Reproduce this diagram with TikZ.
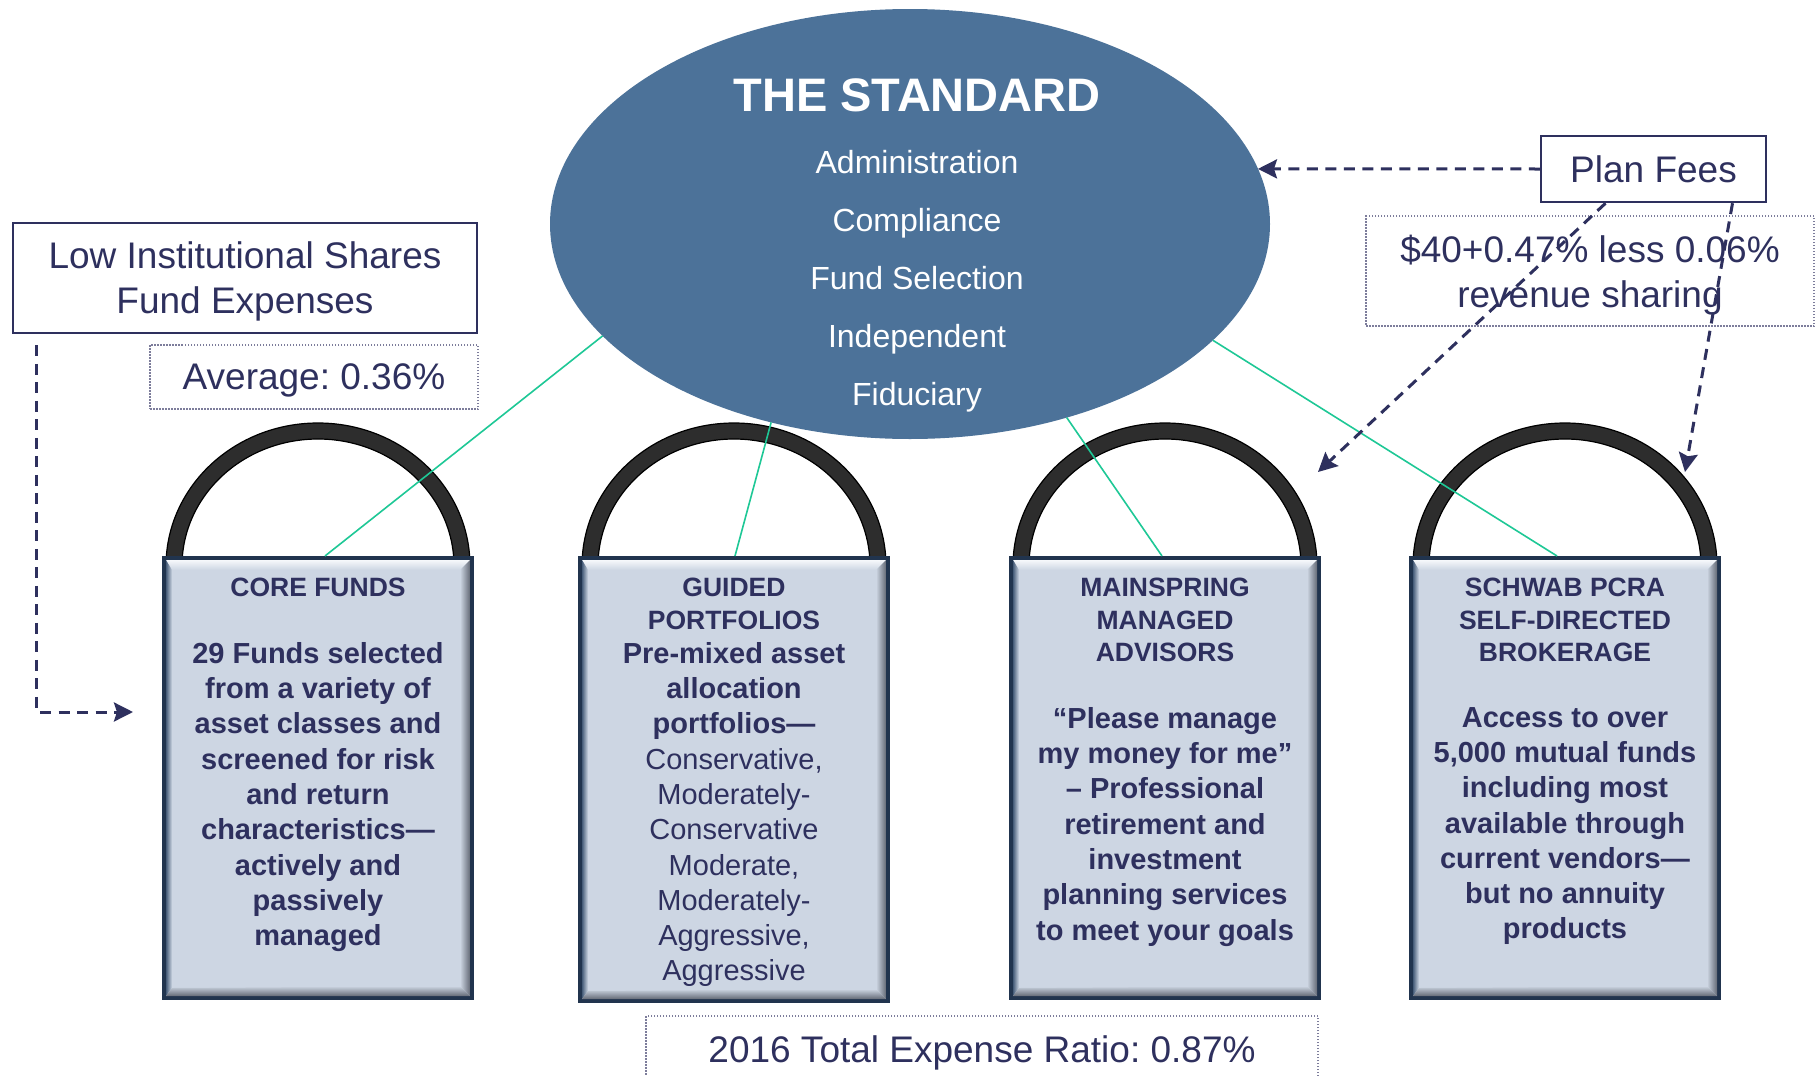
\documentclass[tikz,border=0pt]{standalone}
\usepackage{fontspec}
\setmainfont{Liberation Sans}
\usetikzlibrary{shapes.geometric,arrows.meta,calc}
\frenchspacing

\definecolor{navy}{RGB}{46,48,94}
\definecolor{stdblue}{RGB}{76,114,153}
\definecolor{linkgreen}{RGB}{30,200,150}
\definecolor{cardface}{RGB}{205,214,227}
\definecolor{cardedge}{RGB}{33,52,78}
\definecolor{archfill}{RGB}{45,45,45}
\definecolor{dotline}{RGB}{125,125,155}
\definecolor{bevelleft}{RGB}{70,92,120}
\definecolor{bevelshade}{RGB}{100,106,118}
\definecolor{bevellight}{RGB}{246,248,251}

% bevelled card: name, x1, y1, x2, y2
\newcommand{\cardframe}[5]{%
  \fill[cardedge] (#2,#3) rectangle (#4,#5);
  \fill[cardface] (#2+4,#3+4) rectangle (#4-4,#5-4);
  \begin{scope}
    \clip (#2+4,#3+4) -- (#4-4,#3+4) -- (#4-14,#3+14) -- (#2+10,#3+14) -- cycle;
    \shade[top color=bevellight, bottom color=cardface] (#2,#3+4) rectangle (#4,#3+14);
  \end{scope}
  \begin{scope}
    \clip (#2+4,#3+4) -- (#2+10,#3+14) -- (#2+10,#5-12) -- (#2+4,#5-4) -- cycle;
    \shade[left color=bevelleft, right color=cardface] (#2+4,#3) rectangle (#2+10,#5);
  \end{scope}
  \begin{scope}
    \clip (#4-4,#3+4) -- (#4-4,#5-4) -- (#4-14,#5-14) -- (#4-14,#3+14) -- cycle;
    \shade[left color=cardface, right color=bevelshade] (#4-14,#3) rectangle (#4-4,#5);
  \end{scope}
  \begin{scope}
    \clip (#2+4,#5-4) -- (#4-4,#5-4) -- (#4-14,#5-14) -- (#2+10,#5-12) -- cycle;
    \shade[top color=cardface, bottom color=bevelshade] (#2,#5-14) rectangle (#4,#5-4);
  \end{scope}
  \node[inner sep=0, outer sep=0, minimum width={#4-#2}, minimum height={#5-#3}] (#1) at ({(#2+#4)/2},{(#3+#5)/2}) {};
}

\begin{document}
\begin{tikzpicture}[x=1pt,y=-1pt,
  arch/.style={fill=archfill, draw=black, line width=1.2pt},
  linkline/.style={linkgreen, line width=1.6pt},
  feearrow/.style={navy, line width=3pt, dash pattern=on 11pt off 7.5pt,
    -{Stealth[length=19pt,width=19pt,inset=3pt]}},
  labelbox/.style={draw=navy, line width=2.5pt, text=navy, align=center, inner sep=0,
    text depth=0pt, font=\fontsize{37}{45}\selectfont},
  notebox/.style={draw=dotline, line width=1.3pt, dash pattern=on 1.5pt off 1.5pt,
    text=navy, align=center, inner sep=0, text depth=0pt, font=\fontsize{37}{45}\selectfont},
  cardtitle/.style={anchor=north, align=center, inner sep=0, text=navy,
    font=\bfseries\fontsize{26.5}{32.5}\selectfont},
  cardbody/.style={anchor=north, align=center, inner sep=0, text=navy,
    font=\bfseries\fontsize{29}{35.3}\selectfont}]

\useasboundingbox (0,0) rectangle (1818,1076);
\fill[white] (0,0) rectangle (1818,1076);

% handles of the four padlocks
\foreach \cx in {318,734,1165,1565} {
  \filldraw[arch] (\cx-152,566) arc[start angle=180,end angle=360,x radius=152,y radius=143]
    -- (\cx+136,566) arc[start angle=0,end angle=-180,x radius=136,y radius=127] -- cycle;
}

% central ellipse
\node[ellipse, fill=stdblue, minimum width=720pt, minimum height=430pt, inner sep=0, outer sep=0] (std) at (910,224) {};

% padlock bodies
\cardframe{c1}{162}{556}{474}{1000}
\cardframe{c2}{578}{556}{890}{1003}
\cardframe{c3}{1009}{556}{1321}{1000}
\cardframe{c4}{1409}{556}{1721}{1000}

% links from the ellipse to each body
\draw[linkline] (std.200.3) -- ([xshift=7pt]c1.north);
\draw[linkline] (std.235.6) -- ([xshift=1pt]c2.north);
\draw[linkline] (std.309.8) -- ([xshift=-3pt]c3.north);
\draw[linkline] (std.339.1) -- ([xshift=-8pt]c4.north);

% texts in the ellipse
\node[text=white, inner sep=0, font=\bfseries\fontsize{47}{56}\selectfont] (stdtitle) at (917,95) {THE STANDARD};
\node[text=white, inner sep=0, anchor=north, align=center, font=\fontsize{32}{58}\selectfont] (stditems) at (917,150)
  {Administration\\Compliance\\Fund Selection\\Independent\\Fiduciary};

% labels
\node[labelbox, minimum width=225pt, minimum height=66pt] (plan) at (1653.5,169) {Plan Fees};
\node[labelbox, minimum width=464pt, minimum height=110pt] (lowinst) at (245,278) {Low Institutional Shares\\Fund Expenses};
\node[notebox, minimum width=328pt, minimum height=64pt] (avg) at (314,377) {Average: 0.36\%};
\node[notebox, minimum width=448pt, minimum height=110pt] (rev) at (1590,271) {\$40+0.47\% less 0.06\%\\revenue sharing};
\node[notebox, minimum width=672pt, minimum height=66pt] (ter) at (982,1049) {2016 Total Expense Ratio: 0.87\%};

% texts in the padlock bodies
\node[cardtitle] (h1) at (318,578) {CORE FUNDS};
\node[cardbody] (b1) at (318,642) {29 Funds selected\\from a variety of\\asset classes and\\screened for risk\\and return\\characteristics—\\actively and\\passively\\managed};
\node[cardtitle] (h2) at (734,578) {GUIDED\\PORTFOLIOS};
\node[cardbody] (b2) at (734,642) {Pre-mixed asset\\allocation\\portfolios—\\{\mdseries Conservative,}\\{\mdseries Moderately-}\\{\mdseries Conservative}\\{\mdseries Moderate,}\\{\mdseries Moderately-}\\{\mdseries Aggressive,}\\{\mdseries Aggressive}};
\node[cardtitle] (h3) at (1165,578) {MAINSPRING\\MANAGED\\ADVISORS};
\node[cardbody] (b3) at (1165,707) {“Please manage\\my money for me”\\– Professional\\retirement and\\investment\\planning services\\to meet your goals};
\node[cardtitle] (h4) at (1565,578) {SCHWAB PCRA\\SELF-DIRECTED\\BROKERAGE};
\node[cardbody] (b4) at (1565,707) {Access to over\\5,000 mutual funds\\including most\\available through\\current vendors—\\but no annuity\\products};

% fee arrows
\coordinate (tipA) at (133,712);
\coordinate (tipB) at (1318,472);
\coordinate (tipC) at (1685,472);
\draw[feearrow] ([xshift=25pt,yshift=-11pt]lowinst.south west) |- (tipA);
\draw[feearrow] (plan.west) -- (std.9.5);
\draw[feearrow] ([xshift=-48pt]plan.south) -- (tipB);
\draw[feearrow] ([xshift=79pt]plan.south) -- (tipC);

\end{tikzpicture}
\end{document}
